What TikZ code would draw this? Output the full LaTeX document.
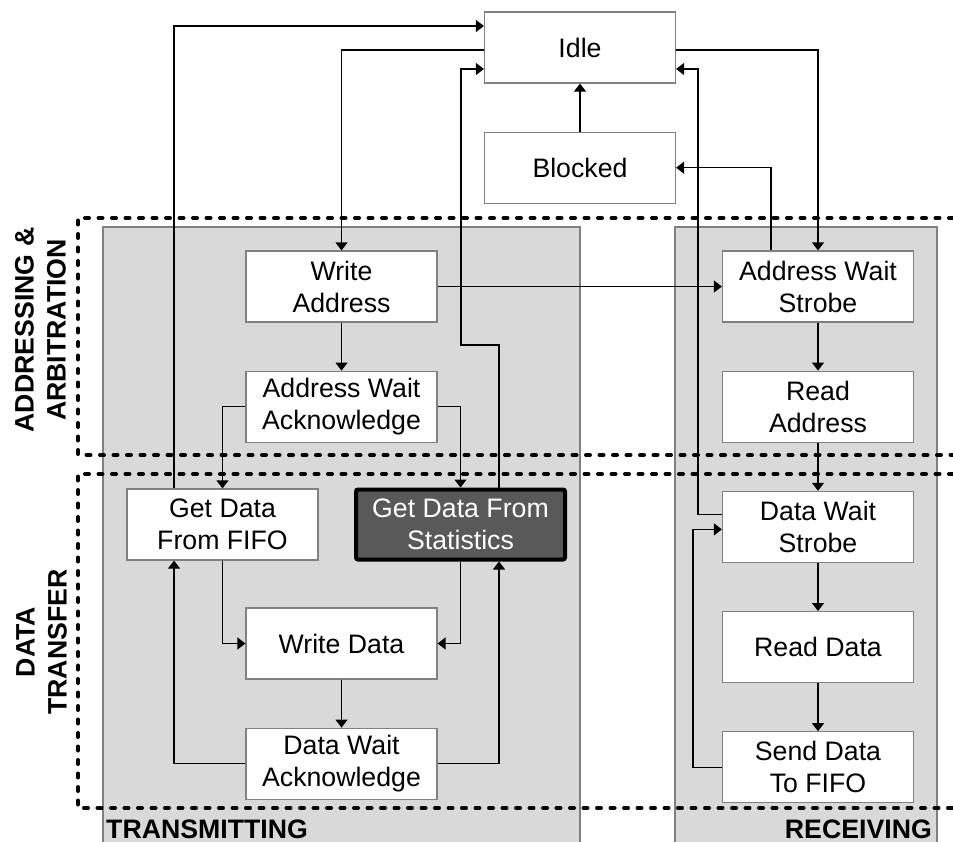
\documentclass[tikz,border=0pt]{standalone}
\usepackage{fontspec}
\setmainfont{Liberation Sans}
\usetikzlibrary{positioning, arrows.meta}
\definecolor{fsmgray}{HTML}{D9D9D9}
\definecolor{fsmedge}{HTML}{808080}
\definecolor{fsmdark}{HTML}{595959}

\begin{document}
\begin{tikzpicture}[
  x=1pt, y=-1pt,
  font=\fontsize{26.7}{32}\selectfont,
  node distance=48pt and 48pt,
  state/.style={
    draw=fsmedge, line width=1.2pt, fill=white, align=center,
    minimum width=191pt, minimum height=71pt, inner sep=2pt
  },
  hot/.style={state, fill=fsmdark, draw=black, line width=4pt, text=white,
    rounded corners=2pt, minimum width=209pt, minimum height=70pt},
  lane/.style={fill=fsmgray, draw=fsmedge, line width=1.2pt},
  phase/.style={draw=black, line width=4pt, line cap=round, dash pattern=on 4pt off 9.5pt},
  title/.style={font=\fontsize{26.7}{32}\selectfont\bfseries, align=center, inner sep=0pt},
  flow/.style={-{Triangle[length=8pt, width=12pt]}, line width=1.3pt},
]
\useasboundingbox (0,0) rectangle (953,842);

% Lanes: transmitting and receiving
\path[lane] (103,842) -- (103,227) -- (580,227) -- (580,842);
\path[lane] (675,842) -- (675,227) -- (937,227) -- (937,842);

% Phases (open to the right)
\draw[phase] (953,218) -- (78,218) -- (78,455) -- (953,455);
\draw[phase] (953,474) -- (78,474) -- (78,808) -- (953,808);

% Labels
\node[title, rotate=90] (addrlbl) at (40.5,330) {ADDRESSING \&\\ARBITRATION};
\node[title, rotate=90] (datalbl) at (41.5,642) {DATA\\TRANSFER};
\node[title, anchor=base west] (txlbl) at (106,838) {TRANSMITTING};
\node[title, anchor=base east] (rxlbl) at (932,838) {RECEIVING};

% Common states
\node[state] (idle) at (580,47.5) {Idle};
\node[state, below=of idle] (blocked) {Blocked};

% Transmitting side
\node[state] (wraddr) at (341.5,286.5) {Write\\Address};
\node[state, below=of wraddr] (awack) {Address Wait\\Acknowledge};
\node[state] (fifo) at (222.5,524.5) {Get Data\\From FIFO};
\node[hot] (stats) at (460.5,524.5) {Get Data From\\Statistics};
\node[state] (wrdata) at (341.5,643.5) {Write Data};
\node[state, below=of wrdata] (dwack) {Data Wait\\Acknowledge};

% Receiving side
\node[state] (awstrobe) at (818,286.5) {Address Wait\\Strobe};
\node[state, below=of awstrobe] (rdaddr) {Read\\Address};
\node[state, below=of rdaddr] (dwstrobe) {Data Wait\\Strobe};
\node[state, below=of dwstrobe] (rddata) {Read Data};
\node[state, below=of rddata] (senddata) {Send Data\\To FIFO};

% Back to idle
\draw[flow] ([xshift=-48.5pt]fifo.north) |- ([yshift=21.5pt]idle.west);
\coordinate (statsbend) at (461,345);
\draw[flow] ([xshift=38.5pt]stats.north) |- (statsbend) |- ([yshift=-21.5pt]idle.west);
\draw[flow] ([yshift=12.5pt]dwstrobe.west) -- ++(-24,0) |- ([yshift=-21.5pt]idle.east);
\draw[flow] (blocked) -- (idle);

% Idle out
\draw[flow] ([yshift=-2.5pt]idle.west) -| (wraddr.north);
\draw[flow] ([yshift=-2.5pt]idle.east) -| (awstrobe.north);
\draw[flow] ([xshift=-47pt]awstrobe.north) |- (blocked.east);

% Addressing
\draw[flow] (wraddr) -- (awack);
\draw[flow] (wraddr.east) -- (awstrobe.west);
\draw[flow] (awack.west) -| (fifo.north);
\draw[flow] (awack.east) -| (stats.north);
\draw[flow] (awstrobe) -- (rdaddr);
\draw[flow] (rdaddr) -- (dwstrobe);

% Data transfer, transmitting
\draw[flow] (fifo.south) |- (wrdata.west);
\draw[flow] (stats.south) |- (wrdata.east);
\draw[flow] (wrdata) -- (dwack);
\draw[flow] (dwack.west) -| ([xshift=-48.5pt]fifo.south);
\draw[flow] (dwack.east) -| ([xshift=38.5pt]stats.south);

% Data transfer, receiving
\draw[flow] (dwstrobe) -- (rddata);
\draw[flow] (rddata) -- (senddata);
\draw[flow] (senddata.west) -- ++(-29,0) |- ([yshift=-2.5pt]dwstrobe.west);
\end{tikzpicture}
\end{document}
